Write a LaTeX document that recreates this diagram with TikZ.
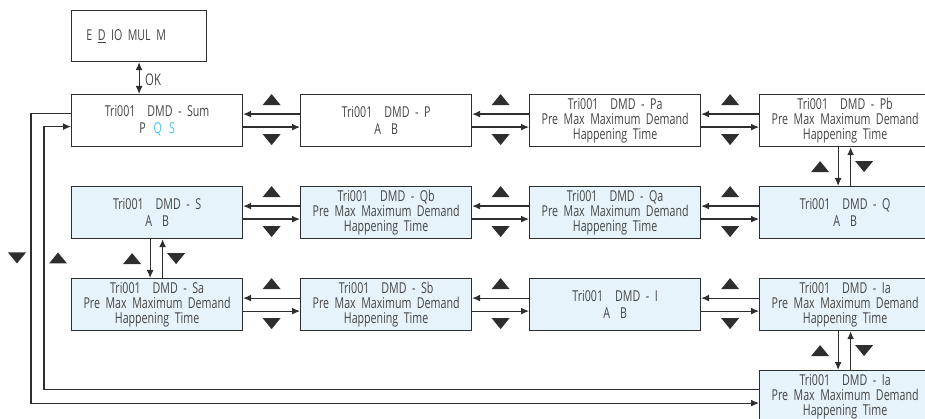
\documentclass[tikz,border=0pt]{standalone}
\usepackage{fontspec}
\setmainfont{Open Sans}[FakeStretch=0.71,WordSpace=2.0]
\usetikzlibrary{arrows.meta,calc}
\definecolor{txt}{HTML}{454545}
\definecolor{bord}{HTML}{2E2E2E}
\definecolor{lblue}{HTML}{E6F3FA}
\definecolor{qs}{HTML}{45C3EE}
\begin{document}
\begin{tikzpicture}[x=1pt,y=-1pt,
  box/.style={draw=bord, line width=1.2pt, minimum width=171pt, minimum height=52pt, inner sep=0pt,
    align=center, text=txt, font=\fontsize{15}{15}\selectfont, anchor=north west},
  two/.style={font=\fontsize{15}{16.5}\selectfont},
  wbox/.style={box, fill=white},
  bbox/.style={box, fill=lblue},
  arr/.style={draw=bord, line width=1.2pt, -{Latex[length=8pt,width=7pt]}},
  uptri/.pic={\fill[bord] (-9,5.5) -- (9,5.5) -- (0,-5.5) -- cycle;},
  dntri/.pic={\fill[bord] (-9,-5.5) -- (9,-5.5) -- (0,5.5) -- cycle;}
]
\useasboundingbox (0,0) rectangle (925,419);
% top box
\node[wbox, minimum width=135pt, minimum height=51pt] (top) at (71,10) {\hspace*{-26pt}E \underline{D} IO MUL M};
% row 1
\node[wbox, two] (sum) at (71,94) {Tri001\hspace{12pt}DMD - Sum\\ P\hspace{8pt}\textcolor{qs}{Q}\hspace{7pt}\textcolor{qs}{S}};
\node[wbox, two] (p) at (300,94) {Tri001\hspace{12pt}DMD - P\\ A\hspace{10pt}B};
\node[wbox] (pa) at (529,94) {Tri001\hspace{12pt}DMD - Pa\\ Pre Max Maximum Demand\\ Happening Time};
\node[wbox] (pb) at (759,94) {Tri001\hspace{12pt}DMD - Pb\\ Pre Max Maximum Demand\\ Happening Time};
% row 2
\node[bbox, two] (s) at (71,186) {Tri001\hspace{12pt}DMD - S\\ A\hspace{10pt}B};
\node[bbox] (qb) at (300,186) {Tri001\hspace{12pt}DMD - Qb\\ Pre Max Maximum Demand\\ Happening Time};
\node[bbox] (qa) at (529,186) {Tri001\hspace{12pt}DMD - Qa\\ Pre Max Maximum Demand\\ Happening Time};
\node[bbox, two] (q) at (759,186) {Tri001\hspace{12pt}DMD - Q\\ A\hspace{10pt}B};
% row 3
\node[bbox] (sa) at (71,278) {Tri001\hspace{12pt}DMD - Sa\\ Pre Max Maximum Demand\\ Happening Time};
\node[bbox] (sb) at (300,278) {Tri001\hspace{12pt}DMD - Sb\\ Pre Max Maximum Demand\\ Happening Time};
\node[bbox, two] (i) at (529,278) {Tri001\hspace{12pt}DMD - I\\ A\hspace{10pt}B};
\node[bbox] (ia) at (759,278) {Tri001\hspace{12pt}DMD - Ia\\ Pre Max Maximum Demand\\ Happening Time};
% row 4
\node[bbox] (ia2) at (759,370) {Tri001\hspace{12pt}DMD - Ia\\ Pre Max Maximum Demand\\ Happening Time};
% OK arrow
\draw[arr, {Latex[length=8pt,width=7pt]}-{Latex[length=8pt,width=7pt]}] (top.south) -- (top.south |- sum.north);
\node[text=txt, font=\fontsize{16}{16}\selectfont, anchor=west, inner sep=0pt] (ok) at (145,80) {OK};
% horizontal pairs
\foreach \a/\b in {sum/p,p/pa,pa/pb,s/qb,qb/qa,qa/q,sa/sb,sb/i,i/ia}{
  \draw[arr] ([yshift=6.5pt]\b.west) -- ([yshift=6.5pt]\a.east);
  \draw[arr] ([yshift=-6.5pt]\a.east) -- ([yshift=-6.5pt]\b.west);
  \pic at ($(\a.east)!0.5!(\b.west)+(0,-21)$) {uptri};
  \pic at ($(\a.east)!0.5!(\b.west)+(0,19)$) {dntri};
}
% vertical pairs
\foreach \a/\b in {pb/q,s/sa,ia/ia2}{
  \draw[arr] ([xshift=-7pt]\a.south) -- ([xshift=-7pt]\b.north);
  \draw[arr] ([xshift=5.5pt]\b.north) -- ([xshift=5.5pt]\a.south);
  \pic at ($(\a.south)!0.5!(\b.north)+(-25,0)$) {uptri};
  \pic at ($(\a.south)!0.5!(\b.north)+(19,0)$) {dntri};
}
% left loops
\draw[arr] ([yshift=7pt]sum.west) -- ++(-40,0) |- ([yshift=-6.5pt]ia2.west);
\draw[arr] ([yshift=7.5pt]ia2.west) -| ([xshift=-27pt,yshift=-6pt]sum.west) -- ([yshift=-6pt]sum.west);
\pic at (17,258) {dntri};
\pic at (58,258) {uptri};
\end{tikzpicture}
\end{document}
